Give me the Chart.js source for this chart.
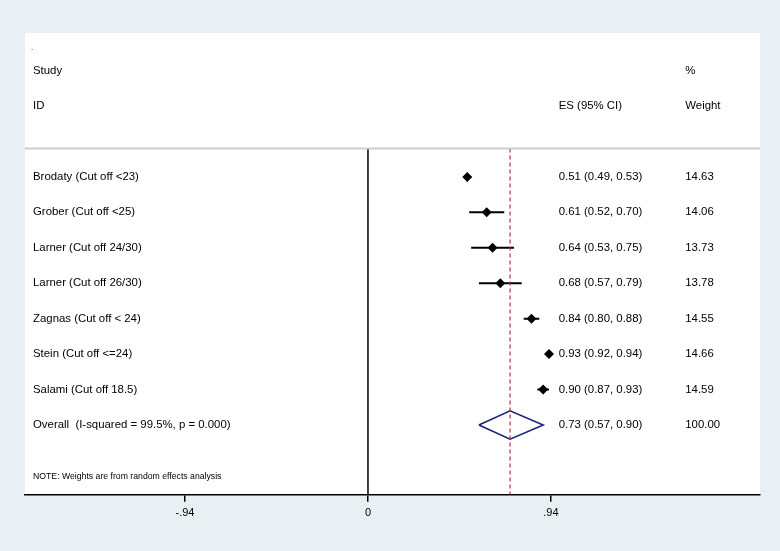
<!DOCTYPE html>
<html>
<head>
<meta charset="utf-8">
<script src="https://cdn.jsdelivr.net/npm/chart.js@4/dist/chart.umd.min.js"></script>
<style>
  html, body { margin: 0; padding: 0; background: #e9f0f3; }
  canvas { display: block; }
</style>
</head>
<body>
<canvas id="forest" width="780" height="551"></canvas>
<script>
// study rows
const studies = [
    'Brodaty (Cut off <23)',
    'Grober (Cut off <25)',
    'Larner (Cut off 24/30)',
    'Larner (Cut off 26/30)',
    'Zagnas (Cut off < 24)',
    'Stein (Cut off <=24)',
    'Salami (Cut off 18.5)'
];
const es = [0.51, 0.61, 0.64, 0.68, 0.84, 0.93, 0.90];
const ciLow = [0.49, 0.52, 0.53, 0.57, 0.80, 0.92, 0.87];
const ciHigh = [0.53, 0.70, 0.75, 0.79, 0.88, 0.94, 0.93];
const weights = ['14.63', '14.06', '13.73', '13.78', '14.55', '14.66', '14.59'];

const overallLabel = 'Overall  (I-squared = 99.5%, p = 0.000)';
const overallES = 0.73;
const overallLow = 0.57;
const overallHigh = 0.90;
const overallWeight = '100.00';

const tickValues = [-0.94, 0, 0.94];
const tickLabels = ['-.94', '0', '.94'];

// axis ranges (rows go top -> bottom)
const X_MIN = -1.762, X_MAX = 2.014;
const Y_MIN = -4.06, Y_MAX = 8.97;
const RULE_Y = -0.8;
const OVERALL_ROW = studies.length;
const ES_COL = 0.98, WT_COL = 1.63;

const FONT = '"Liberation Sans", Arial, Helvetica, sans-serif';

function fmt(v) { return v.toFixed(2); }

const datasets = [];
// grey rule under the header
datasets.push({
    data: [{x: X_MIN, y: RULE_Y}, {x: X_MAX, y: RULE_Y}],
    showLine: true, borderColor: '#cdcdcd', borderWidth: 2, pointRadius: 0
});
// line of no effect
datasets.push({
    data: [{x: 0, y: RULE_Y}, {x: 0, y: Y_MAX}],
    showLine: true, borderColor: '#000', borderWidth: 1.5, pointRadius: 0
});
// overall estimate, dashed
datasets.push({
    data: [{x: overallES, y: RULE_Y}, {x: overallES, y: Y_MAX}],
    showLine: true, borderColor: '#b02a48', borderWidth: 1.2, borderDash: [4, 3], pointRadius: 0
});
// confidence intervals
studies.forEach((s, i) => {
    datasets.push({
        data: [{x: ciLow[i], y: i}, {x: ciHigh[i], y: i}],
        showLine: true, borderColor: '#000', borderWidth: 2, pointRadius: 0
    });
});
// point estimates
datasets.push({
    data: es.map((v, i) => ({x: v, y: i})),
    pointStyle: 'rectRot', pointRadius: 5, backgroundColor: '#000', borderColor: '#000', borderWidth: 0
});
// pooled diamond
datasets.push({
    data: [
        {x: overallLow, y: OVERALL_ROW},
        {x: overallES, y: OVERALL_ROW - 0.4},
        {x: overallHigh, y: OVERALL_ROW},
        {x: overallES, y: OVERALL_ROW + 0.4},
        {x: overallLow, y: OVERALL_ROW}
    ],
    showLine: true, borderColor: '#1a2278', borderWidth: 1.6, pointRadius: 0, tension: 0
});

const panelPlugin = {
    id: 'panel',
    beforeDraw(chart) {
        const {ctx, chartArea: a} = chart;
        ctx.save();
        ctx.fillStyle = '#e9f0f3';
        ctx.fillRect(0, 0, chart.width, chart.height);
        ctx.fillStyle = '#ffffff';
        ctx.fillRect(a.left, a.top, a.right - a.left, a.bottom - a.top);
        ctx.restore();
    }
};

const tablePlugin = {
    id: 'table',
    afterDraw(chart) {
        const {ctx, chartArea: a} = chart;
        const xs = chart.scales.x, ys = chart.scales.y;
        const left = a.left + 8;
        const esX = xs.getPixelForValue(ES_COL);
        const wtX = xs.getPixelForValue(WT_COL);
        ctx.save();
        ctx.fillStyle = '#000';
        ctx.textBaseline = 'middle';
        ctx.textAlign = 'left';
        ctx.font = '8px ' + FONT;
        ctx.fillText('.', left - 2, ys.getPixelForValue(-3.65));
        ctx.font = '11.4px ' + FONT;
        ctx.fillText('Study', left, ys.getPixelForValue(-3));
        ctx.fillText('ID', left, ys.getPixelForValue(-2));
        ctx.fillText('ES (95% CI)', esX, ys.getPixelForValue(-2));
        ctx.fillText('%', wtX, ys.getPixelForValue(-3));
        ctx.fillText('Weight', wtX, ys.getPixelForValue(-2));
        studies.forEach((s, i) => {
            const y = ys.getPixelForValue(i);
            ctx.fillText(s, left, y);
            ctx.fillText(fmt(es[i]) + ' (' + fmt(ciLow[i]) + ', ' + fmt(ciHigh[i]) + ')', esX, y);
            ctx.fillText(weights[i], wtX, y);
        });
        const yo = ys.getPixelForValue(OVERALL_ROW);
        ctx.fillText(overallLabel, left, yo);
        ctx.fillText(fmt(overallES) + ' (' + fmt(overallLow) + ', ' + fmt(overallHigh) + ')', esX, yo);
        ctx.fillText(overallWeight, wtX, yo);
        ctx.font = '8.7px ' + FONT;
        ctx.fillText('NOTE: Weights are from random effects analysis', left, ys.getPixelForValue(8.46));
        ctx.restore();
    }
};

new Chart(document.getElementById('forest'), {
    type: 'scatter',
    data: {datasets: datasets},
    options: {
        responsive: false,
        animation: false,
        layout: {padding: {left: 25, right: 20, top: 33, bottom: 26}},
        plugins: {legend: {display: false}, tooltip: {enabled: false}},
        scales: {
            x: {
                type: 'linear',
                min: X_MIN, max: X_MAX,
                afterBuildTicks: (scale) => { scale.ticks = tickValues.map(v => ({value: v})); },
                ticks: {
                    autoSkip: false, maxRotation: 0, padding: 5, color: '#000',
                    font: {family: FONT, size: 11},
                    callback: (v) => tickLabels[tickValues.indexOf(v)]
                },
                grid: {drawOnChartArea: false, drawTicks: true, tickLength: 7, color: '#000', lineWidth: 1.5},
                border: {display: true, color: '#000', width: 1.5}
            },
            y: {
                type: 'linear', display: false, reverse: true,
                min: Y_MIN, max: Y_MAX
            }
        }
    },
    plugins: [panelPlugin, tablePlugin]
});
</script>
</body>
</html>
